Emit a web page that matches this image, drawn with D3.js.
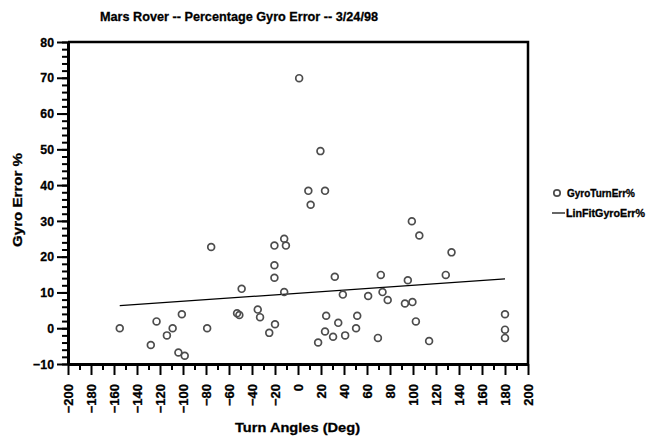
<!DOCTYPE html>
<html>
<head>
<meta charset="utf-8">
<script src="https://cdn.jsdelivr.net/npm/d3@7"></script>
<style>
    body { margin: 0; background: #fff; }
    svg text { font-family: "Liberation Sans", Arial, sans-serif; font-weight: bold; fill: #000; stroke: #000; stroke-width: 0.3px; }
    .axis path, .axis line { stroke: #000; }
    .dot { fill: none; stroke: #4d4d4d; stroke-width: 1.7; }
    .fit { fill: none; stroke: #000; stroke-width: 1.2; }
</style>
</head>
<body>
<div id="chart"></div>
<script>
// puntos: angulo de giro (grados) y error del giroscopio (%)
const turnAngles = [-155, -128, -123, -114, -109, -104, -101, -98.5, -79, -75.5,
    -53, -51, -49, -35, -33, -25, -20.5, -20.5, -20.5, -20, -12, -10.5, -12,
    1, 9, 11, 17.5, 19.5, 23.5, 23.5, 24.5, 30.5, 32, 35, 39, 41, 50.5, 51.5,
    61, 69.5, 72, 73.5, 78, 93, 95.5, 99, 99.5, 102.5, 105.5, 114, 128.5, 133.5,
    180, 180, 180];
const gyroErrors = [0, -4.7, 1.9, -2, 0, -6.8, 3.9, -7.7, 0, 22.7,
    4.2, 3.7, 11, 5.2, 3.1, -1.3, 23.1, 17.6, 14.1, 1.1, 25, 23.1, 10.1,
    69.9, 38.4, 34.5, -4, 49.5, 38.4, -0.9, 3.5, -2.4, 14.4, 1.5, 9.4, -2, 0, 3.5,
    9, -2.7, 14.9, 10.1, 7.9, 6.9, 13.4, 29.9, 7.3, 1.9, 25.9, -3.6, 14.9, 21.2,
    3.9, -0.4, -2.7];

// recta de ajuste lineal
const fitX = [-155, 180];
const fitY = [6.3, 13.8];

const xTicks = d3.range(-200, 201, 20);
const yTicks = d3.range(-10, 81, 10);
const legendLabels = ["GyroTurnErr%", "LinFitGyroErr%"];

const width = 648;
const height = 437;
const margin = { top: 42, right: 120, left: 68, bottom: 73 };

const svg = d3.select("div#chart").append("svg").attr("width", width).attr("height", height)

const x = d3.scaleLinear().domain([-200, 200]).range([margin.left, width - margin.right])
const y = d3.scaleLinear().domain([-10, 80]).range([height - margin.bottom, margin.top])

// marco superior y derecho
svg.append("path")
    .attr("d", `M${x(-200)},${y(80)}H${x(200)}V${y(-10)}`)
    .attr("fill", "none").attr("stroke", "#000").attr("stroke-width", 2.5)

// eje y: marcas menores cada 2, mayores cada 10
svg.append("g").attr("class", "axis")
    .attr("transform", `translate(${x(-200)},0)`)
    .call(d3.axisLeft(y).tickValues(d3.range(-10, 81, 2)).tickSize(6).tickFormat(""))
    .call(g => g.selectAll("line").attr("stroke-width", 2))
    .call(g => g.select(".domain").remove())
svg.append("g").attr("class", "axis")
    .attr("transform", `translate(${x(-200)},0)`)
    .call(d3.axisLeft(y).tickValues(yTicks).tickSize(11).tickSizeOuter(0))
    .call(g => g.select(".domain").attr("stroke-width", 3))
    .call(g => g.selectAll("line").attr("stroke-width", 2))
    .call(g => g.selectAll("text")
        .style("font-size", "13px")
        .attr("x", 0)
        .attr("transform", "translate(-14,0) scale(0.95,1)"))

// eje x
svg.append("g").attr("class", "axis")
    .attr("transform", `translate(0,${y(-10)})`)
    .call(d3.axisBottom(x).tickValues(d3.range(-190, 200, 20)).tickSize(6).tickFormat(""))
    .call(g => g.selectAll("line").attr("stroke-width", 2))
    .call(g => g.select(".domain").remove())
svg.append("g").attr("class", "axis")
    .attr("transform", `translate(0,${y(-10)})`)
    .call(d3.axisBottom(x).tickValues(xTicks).tickSize(11).tickSizeOuter(0))
    .call(g => g.select(".domain").attr("stroke-width", 3))
    .call(g => g.selectAll("line").attr("stroke-width", 2))
    .call(g => g.selectAll("text")
        .style("font-size", "13px")
        .attr("text-anchor", "end")
        .attr("dy", "0.35em")
        .attr("transform", "translate(0,20) rotate(-90)")
        .attr("x", 0).attr("y", 0))

// titulos
svg.append("text").attr("x", 100).attr("y", 21)
    .attr("textLength", 278).attr("lengthAdjust", "spacingAndGlyphs")
    .style("font-size", "13px").text("Mars Rover -- Percentage Gyro Error -- 3/24/98")
svg.append("text").attr("x", 235).attr("y", 432)
    .attr("textLength", 125).attr("lengthAdjust", "spacingAndGlyphs")
    .style("font-size", "13.5px").text("Turn Angles (Deg)")
svg.append("text").attr("transform", "translate(22,247) rotate(-90)")
    .attr("textLength", 94).attr("lengthAdjust", "spacingAndGlyphs")
    .style("font-size", "13px").text("Gyro Error %")

// linea de ajuste
const line = d3.line().x(d => x(d[0])).y(d => y(d[1]))
svg.append("path")
    .datum(fitX.map((v, i) => [v, fitY[i]]))
    .attr("class", "fit")
    .attr("d", line)

// puntos
svg.selectAll(".dot")
    .data(turnAngles.map((v, i) => ({ angle: v, err: gyroErrors[i] })))
    .enter().append("circle")
    .attr("class", "dot")
    .attr("cx", d => x(d.angle))
    .attr("cy", d => y(d.err))
    .attr("r", 3.4)

// leyenda
const legend = svg.append("g").attr("transform", "translate(552,193)")
legend.append("circle").attr("class", "dot").attr("cx", 5).attr("cy", 0).attr("r", 3.2)
legend.append("text").attr("x", 15).attr("y", 3.5)
    .attr("textLength", 68).attr("lengthAdjust", "spacingAndGlyphs")
    .style("font-size", "10px").text(legendLabels[0])
legend.append("line").attr("x1", 0).attr("x2", 13).attr("y1", 20).attr("y2", 20)
    .attr("stroke", "#000").attr("stroke-width", 1.2)
legend.append("text").attr("x", 14).attr("y", 23.5)
    .attr("textLength", 79).attr("lengthAdjust", "spacingAndGlyphs")
    .style("font-size", "10px").text(legendLabels[1])
</script>
</body>
</html>
